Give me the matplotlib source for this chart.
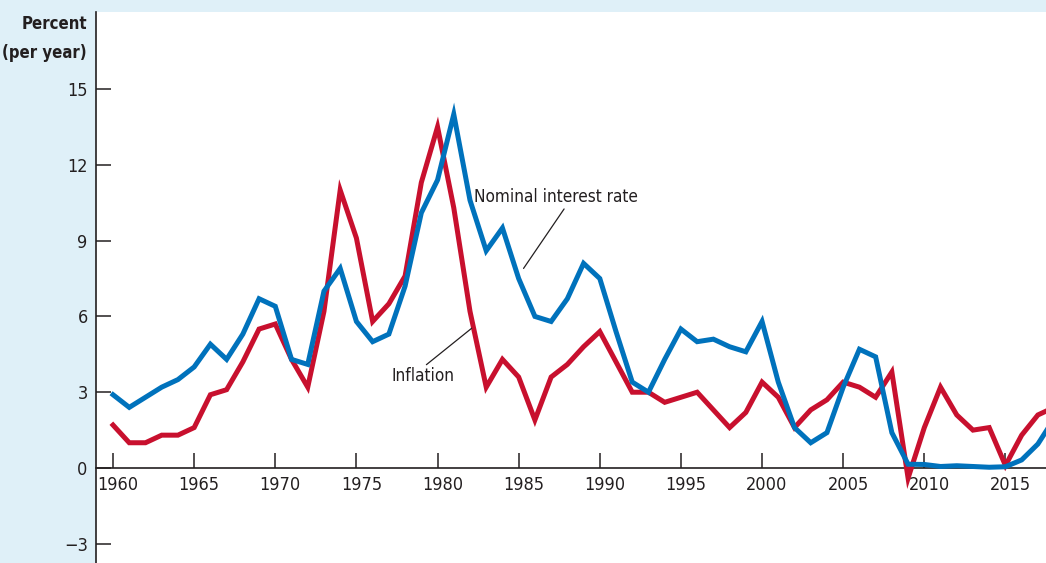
import matplotlib
matplotlib.use('Agg')
import matplotlib.pyplot as plt
from matplotlib.transforms import ScaledTranslation

years = list(range(1960, 2019))
nominal = [2.9, 2.4, 2.8, 3.2, 3.5, 4.0, 4.9, 4.3, 5.3, 6.7,
           6.4, 4.3, 4.1, 7.0, 7.9, 5.8, 5.0, 5.3, 7.2, 10.1,
           11.4, 14.0, 10.6, 8.6, 9.5, 7.5, 6.0, 5.8, 6.7, 8.1,
           7.5, 5.4, 3.4, 3.0, 4.3, 5.5, 5.0, 5.1, 4.8, 4.6,
           5.8, 3.4, 1.6, 1.0, 1.4, 3.2, 4.7, 4.4, 1.4, 0.15,
           0.14, 0.06, 0.09, 0.06, 0.03, 0.05, 0.32, 0.95, 1.95]
inflation = [1.7, 1.0, 1.0, 1.3, 1.3, 1.6, 2.9, 3.1, 4.2, 5.5,
             5.7, 4.3, 3.2, 6.2, 11.0, 9.1, 5.8, 6.5, 7.6, 11.3,
             13.5, 10.3, 6.2, 3.2, 4.3, 3.6, 1.9, 3.6, 4.1, 4.8,
             5.4, 4.2, 3.0, 3.0, 2.6, 2.8, 3.0, 2.3, 1.6, 2.2,
             3.4, 2.8, 1.6, 2.3, 2.7, 3.4, 3.2, 2.8, 3.8, -0.4,
             1.6, 3.2, 2.1, 1.5, 1.6, 0.1, 1.3, 2.1, 2.4]
yticks = [-3, 0, 3, 6, 9, 12, 15]
xticks = list(range(1960, 2016, 5))

plt.rcParams['font.family'] = ['DejaVu Sans']
plt.rcParams['font.stretch'] = 'condensed'
ink = '#231f20'
bg = '#dff0f8'

fig = plt.figure(figsize=(10.46, 5.63), dpi=100, facecolor=bg)
ax = fig.add_axes([96 / 1046, 0, 1 - 96 / 1046, 551 / 563])
ax.set_facecolor('white')

ax.plot(years, inflation, color='#c8102e', lw=3.6, solid_joinstyle='miter', zorder=3)
ax.plot(years, nominal, color='#0072bc', lw=3.6, solid_joinstyle='miter', zorder=4)

ax.set_xlim(1958.95, 2017.5)
ax.set_ylim(-3.76, 18.05)

for s in ['top', 'right']:
    ax.spines[s].set_visible(False)
ax.spines['bottom'].set_position(('data', 0))
for s in ['bottom', 'left']:
    ax.spines[s].set_color(ink)
    ax.spines[s].set_linewidth(1.2)

ax.set_xticks(xticks)
ax.set_yticks(yticks)
ax.set_yticklabels(['\u22123' if v < 0 else str(v) for v in yticks])
ax.tick_params(axis='both', direction='in', length=11, width=1.1, color=ink,
               labelcolor=ink, labelsize=13)
ax.tick_params(axis='x', pad=6)
ax.tick_params(axis='y', pad=6)
# year labels sit a little right of their ticks
shift = ScaledTranslation(5 / 100, 0, fig.dpi_scale_trans)
for lab in ax.get_xticklabels():
    lab.set_transform(lab.get_transform() + shift)

fig.text(87 / 1046, 1 - 15 / 563, 'Percent\n(per year)', ha='right', va='top',
         fontsize=12, fontweight='bold', color=ink, linespacing=1.75)

ax.annotate('Nominal interest rate', xy=(1985.3, 7.9), xytext=(1982.26, 10.72),
            fontsize=12.3, color=ink, ha='left', va='center',
            arrowprops=dict(arrowstyle='-', color=ink, lw=0.9,
                            shrinkA=0, shrinkB=0, relpos=(0.56, 0)))
ax.annotate('Inflation', xy=(1982.1, 5.53), xytext=(1979.1, 3.98),
            fontsize=12.3, color=ink, ha='center', va='top',
            arrowprops=dict(arrowstyle='-', color=ink, lw=0.9,
                            shrinkA=0, shrinkB=0, relpos=(0.5, 1)))

fig.savefig('out.png', dpi=100, facecolor=bg)
